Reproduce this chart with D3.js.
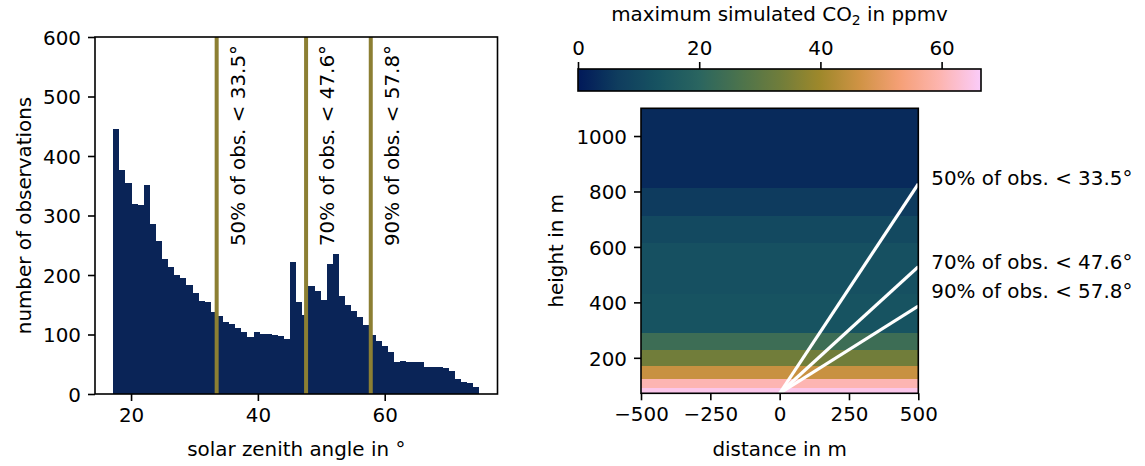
<!DOCTYPE html>
<html>
<head>
<meta charset="utf-8">
<script src="https://cdn.jsdelivr.net/npm/d3@7"></script>
<style>
  body { margin: 0; background: #ffffff; }
  text { font-family: "DejaVu Sans", sans-serif; fill: #000; }
</style>
</head>
<body>
<svg id="chart" width="1145" height="466"></svg>
<script>
// ---------- histogram of solar zenith angles ----------
const szaRange = [17.2, 74.9];           // first and last bin edge in degrees
const szaCounts = [
  445, 376, 355, 319, 318, 351, 286, 257, 227, 214,
  200, 195, 184, 170, 157, 155, 138, 131, 121, 118,
  111, 104,  96, 104, 101, 101,  99,  97,  92, 222,
  155, 133, 181, 173, 158, 218, 235, 165, 150, 140,
  129, 116,  99,  89,  80,  71,  54,  55,  53,  53,
   54,  45,  45,  45,  43,  39,  26,  21,  18,  11
];
const quantileShares = [50, 70, 90];      // percent of observations
const quantileSza = [33.5, 47.6, 57.8];    // zenith angle below which that share lies
const histXTicks = [20, 40, 60];
const histYTicks = [0, 100, 200, 300, 400, 500, 600];

// ---------- simulated plume cross-section ----------
const layerEdges = [72, 91, 123, 170, 228, 288, 430, 614, 712, 814, 1100]; // heights in m
const layerCo2 = [65.0, 59.9, 45.5, 33.5, 23.8, 13.4, 12.4, 10.3, 6.3, 3.1]; // ppmv
const distanceRange = [-500, 500];
const distTicks = [-500, -250, 0, 250, 500];
const heightTicks = [200, 400, 600, 800, 1000];
const co2Range = [0, 66.5];
const cbarTicks = [0, 20, 40, 60];
const labelHeights = [822, 522, 416];     // where the ray labels sit, in m

// batlow-like colour ramp
const rampColors = ["#011959", "#0f3d5e", "#175361", "#2a6560", "#4b734d", "#6f7d3b",
                    "#9e882b", "#d09345", "#f5a077", "#fdb5b1", "#faccfa"];
const ramp = d3.scaleLinear()
  .domain(d3.range(rampColors.length).map(i => i / (rampColors.length - 1)))
  .range(rampColors)
  .interpolate(d3.interpolateRgb);
const co2Color = v => ramp((v - co2Range[0]) / (co2Range[1] - co2Range[0]));

const FS = 19.9;
const svg = d3.select("#chart");
const lw = 1.6, tickLen = 7, tickPad = 7;
const barColor = "#0a2457";
const quantileColor = "#8c7f33";
const intFmt = d3.format("d");

// ===== left panel =====
const L = { left: 95, right: 497.5, top: 37, bottom: 394 };
const pad = (szaRange[1] - szaRange[0]) * 0.05;
const xH = d3.scaleLinear().domain([szaRange[0] - pad, szaRange[1] + pad]).range([L.left, L.right]);
const yH = d3.scaleLinear().domain([0, 600]).range([L.bottom, L.top]);
const binW = (szaRange[1] - szaRange[0]) / szaCounts.length;

const gL = svg.append("g");
gL.append("g").selectAll("rect").data(szaCounts).join("rect")
  .attr("x", (d, i) => xH(szaRange[0] + i * binW))
  .attr("width", (d, i) => xH(szaRange[0] + (i + 1) * binW) - xH(szaRange[0] + i * binW))
  .attr("y", d => yH(d))
  .attr("height", d => yH(0) - yH(d))
  .attr("fill", barColor)
  .attr("shape-rendering", "crispEdges");

gL.append("g").selectAll("line").data(quantileSza).join("line")
  .attr("x1", d => xH(d)).attr("x2", d => xH(d))
  .attr("y1", yH(0)).attr("y2", yH(600))
  .attr("stroke", quantileColor).attr("stroke-width", 4);

gL.append("g").selectAll("text").data(quantileSza).join("text")
  .attr("transform", d => `translate(${xH(d) + 28},${yH(600) + 8}) rotate(-90)`)
  .attr("text-anchor", "end")
  .attr("font-size", FS)
  .text((d, i) => `${quantileShares[i]}% of obs. < ${d.toFixed(1)}°`);

gL.append("rect")
  .attr("x", L.left).attr("y", L.top)
  .attr("width", L.right - L.left).attr("height", L.bottom - L.top)
  .attr("fill", "none").attr("stroke", "#000").attr("stroke-width", lw);

const axLx = gL.append("g").attr("transform", `translate(0,${L.bottom})`)
  .call(d3.axisBottom(xH).tickValues(histXTicks).tickFormat(intFmt).tickSize(tickLen).tickSizeOuter(0).tickPadding(tickPad));
const axLy = gL.append("g").attr("transform", `translate(${L.left},0)`)
  .call(d3.axisLeft(yH).tickValues(histYTicks).tickFormat(intFmt).tickSize(tickLen).tickSizeOuter(0).tickPadding(tickPad));

gL.append("text")
  .attr("x", (L.left + L.right) / 2).attr("y", 456)
  .attr("text-anchor", "middle").attr("font-size", FS)
  .text("solar zenith angle in °");
gL.append("text")
  .attr("transform", `translate(31,${(L.top + L.bottom) / 2}) rotate(-90)`)
  .attr("text-anchor", "middle").attr("font-size", FS)
  .text("number of observations");

// ===== right panel =====
const R = { left: 641, right: 918.3, top: 108.3, bottom: 393.3 };
const xR = d3.scaleLinear().domain(distanceRange).range([R.left, R.right]);
const yR = d3.scaleLinear().domain([layerEdges[0], layerEdges[layerEdges.length - 1]]).range([R.bottom, R.top]);

const gR = svg.append("g");
svg.append("defs").append("clipPath").attr("id", "clipR")
  .append("rect").attr("x", R.left).attr("y", R.top)
  .attr("width", R.right - R.left).attr("height", R.bottom - R.top);

gR.append("g").selectAll("rect").data(layerCo2).join("rect")
  .attr("x", xR(distanceRange[0]))
  .attr("width", xR(distanceRange[1]) - xR(distanceRange[0]))
  .attr("y", (d, i) => yR(layerEdges[i + 1]))
  .attr("height", (d, i) => yR(layerEdges[i]) - yR(layerEdges[i + 1]))
  .attr("fill", d => co2Color(d))
  .attr("shape-rendering", "crispEdges");

// slant viewing rays from the ground point
const ground = layerEdges[0];
const rayLine = d3.line().x(p => xR(p[0])).y(p => yR(p[1]));
gR.append("g").attr("clip-path", "url(#clipR)")
  .selectAll("path").data(quantileSza).join("path")
  .attr("d", d => rayLine([[0, ground], [distanceRange[1], ground + distanceRange[1] / Math.tan(d * Math.PI / 180)]]))
  .attr("fill", "none").attr("stroke", "#fff").attr("stroke-width", 3.2);

gR.append("rect")
  .attr("x", R.left).attr("y", R.top)
  .attr("width", R.right - R.left).attr("height", R.bottom - R.top)
  .attr("fill", "none").attr("stroke", "#000").attr("stroke-width", lw);

const axRx = gR.append("g").attr("transform", `translate(0,${R.bottom})`)
  .call(d3.axisBottom(xR).tickValues(distTicks).tickFormat(intFmt).tickSize(tickLen).tickSizeOuter(0).tickPadding(tickPad));
const axRy = gR.append("g").attr("transform", `translate(${R.left},0)`)
  .call(d3.axisLeft(yR).tickValues(heightTicks).tickFormat(intFmt).tickSize(tickLen).tickSizeOuter(0).tickPadding(tickPad));

gR.append("g").selectAll("text").data(quantileSza).join("text")
  .attr("x", xR(distanceRange[1]) + 13)
  .attr("y", (d, i) => yR(labelHeights[i]))
  .attr("font-size", FS)
  .text((d, i) => `${quantileShares[i]}% of obs. < ${d.toFixed(1)}°`);

gR.append("text")
  .attr("x", (R.left + R.right) / 2).attr("y", 456)
  .attr("text-anchor", "middle").attr("font-size", FS)
  .text("distance in m");
gR.append("text")
  .attr("transform", `translate(563,${(R.top + R.bottom) / 2}) rotate(-90)`)
  .attr("text-anchor", "middle").attr("font-size", FS)
  .text("height in m");

// ===== colour bar =====
const C = { left: 578, right: 981, top: 69, bottom: 91 };
const xC = d3.scaleLinear().domain(co2Range).range([C.left, C.right]);
const grad = svg.select("defs").append("linearGradient").attr("id", "cbar")
  .attr("x1", "0%").attr("x2", "100%").attr("y1", "0%").attr("y2", "0%");
grad.selectAll("stop").data(d3.range(0, 1.0001, 0.02)).join("stop")
  .attr("offset", d => `${d * 100}%`)
  .attr("stop-color", d => ramp(d));
const gC = svg.append("g");
gC.append("rect")
  .attr("x", C.left).attr("y", C.top)
  .attr("width", C.right - C.left).attr("height", C.bottom - C.top)
  .attr("fill", "url(#cbar)").attr("stroke", "#000").attr("stroke-width", lw);
const axC = gC.append("g").attr("transform", `translate(0,${C.top})`)
  .call(d3.axisTop(xC).tickValues(cbarTicks).tickFormat(intFmt).tickSize(tickLen).tickSizeOuter(0).tickPadding(tickPad));
const cLabel = gC.append("text")
  .attr("x", (C.left + C.right) / 2).attr("y", 20.5)
  .attr("text-anchor", "middle").attr("font-size", FS);
cLabel.append("tspan").text("maximum simulated CO");
cLabel.append("tspan").attr("font-size", FS * 0.7).attr("dy", 4).text("2");
cLabel.append("tspan").attr("dy", -4).text(" in ppmv");

// common axis styling
for (const ax of [axLx, axLy, axRx, axRy, axC]) {
  ax.select(".domain").remove();
  ax.selectAll(".tick line").attr("stroke", "#000").attr("stroke-width", lw);
  ax.selectAll(".tick text").attr("font-size", FS).attr("font-family", "DejaVu Sans").attr("fill", "#000");
}
for (const ax of [axLx, axRx]) ax.selectAll(".tick text").attr("dy", "0.71em");
for (const ax of [axLy, axRy]) ax.selectAll(".tick text").attr("dy", "0.365em");
axC.selectAll(".tick text").attr("dy", "0em");
</script>
</body>
</html>
